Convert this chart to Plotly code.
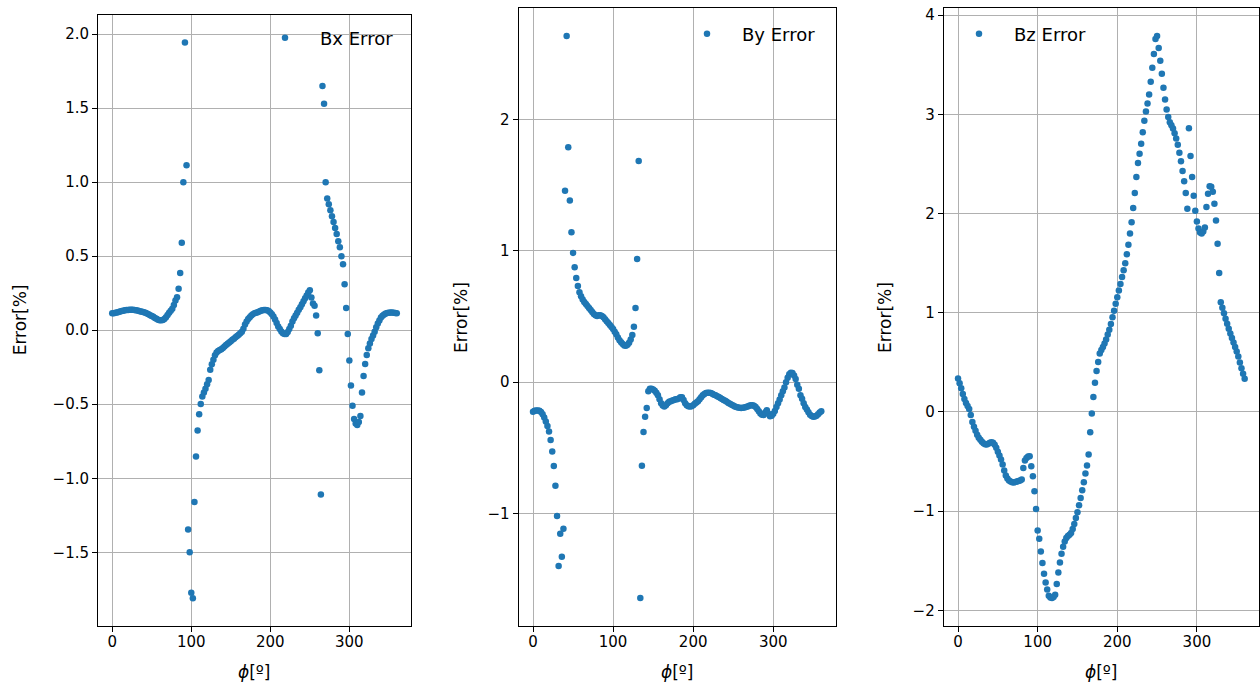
import plotly.graph_objects as go

# ---------------- data ----------------
phi_deg = list(range(0, 362, 2))  # angle grid 0..360 deg, 2 deg step

bx_error = [
    0.114, 0.115, 0.117, 0.120, 0.123, 0.126, 0.129, 0.132, 0.134, 0.136,
    0.137, 0.138, 0.138, 0.138, 0.137, 0.135, 0.133, 0.130, 0.127, 0.124,
    0.121, 0.118, 0.113, 0.107, 0.101, 0.096, 0.090, 0.083, 0.077, 0.071,
    0.068, 0.067, 0.069, 0.076, 0.088, 0.103, 0.118, 0.132, 0.145, 0.170,
    0.200, 0.222, 0.280, 0.386, 0.590, 1.000, 1.943, 1.114, -1.347, -1.500,
    -1.774, -1.810, -1.160, -0.853, -0.678, -0.567, -0.498, -0.448, -0.420, -0.395,
    -0.365, -0.336, -0.268, -0.230, -0.200, -0.170, -0.150, -0.140, -0.133, -0.128,
    -0.120, -0.110, -0.100, -0.092, -0.083, -0.075, -0.065, -0.057, -0.048, -0.040,
    -0.030, -0.020, -0.010, 0.010, 0.038, 0.058, 0.075, 0.088, 0.100, 0.108,
    0.114, 0.118, 0.122, 0.127, 0.131, 0.134, 0.136, 0.136, 0.134, 0.130,
    0.120, 0.108, 0.092, 0.072, 0.048, 0.025, 0.008, -0.008, -0.020, -0.026,
    -0.025, -0.012, 0.008, 0.030, 0.058, 0.080, 0.100, 0.118, 0.138, 0.155,
    0.175, 0.195, 0.215, 0.235, 0.255, 0.270, 0.220, 0.180, 0.165, 0.100,
    -0.020, -0.270, -1.110, 1.649, 1.530, 1.000, 0.890, 0.850, 0.810, 0.770,
    0.730, 0.690, 0.650, 0.600, 0.560, 0.500, 0.446, 0.310, 0.150, -0.026,
    -0.205, -0.374, -0.510, -0.600, -0.630, -0.640, -0.620, -0.580, -0.420, -0.310,
    -0.228, -0.167, -0.122, -0.090, -0.060, -0.035, -0.010, 0.020, 0.045, 0.065,
    0.085, 0.098, 0.106, 0.112, 0.116, 0.118, 0.120, 0.120, 0.118, 0.116,
    0.114,
]

by_error = [
    -0.226, -0.218, -0.215, -0.215, -0.218, -0.228, -0.245, -0.270, -0.300, -0.335,
    -0.376, -0.440, -0.529, -0.638, -0.790, -1.020, -1.400, -1.155, -1.330, -1.117,
    1.458, 2.637, 1.790, 1.385, 1.143, 0.985, 0.876, 0.794, 0.733, 0.685,
    0.655, 0.630, 0.610, 0.595, 0.580, 0.565, 0.550, 0.535, 0.520, 0.510,
    0.505, 0.510, 0.510, 0.505, 0.495, 0.480, 0.465, 0.450, 0.435, 0.420,
    0.405, 0.385, 0.365, 0.340, 0.320, 0.305, 0.290, 0.280, 0.278, 0.285,
    0.300, 0.325, 0.360, 0.423, 0.565, 0.939, 1.685, -1.644, -0.636, -0.379,
    -0.264, -0.196, -0.070, -0.050, -0.050, -0.055, -0.065, -0.080, -0.100, -0.130,
    -0.160, -0.178, -0.185, -0.175, -0.160, -0.150, -0.145, -0.140, -0.135, -0.130,
    -0.130, -0.125, -0.115, -0.115, -0.135, -0.160, -0.175, -0.183, -0.185, -0.183,
    -0.175, -0.165, -0.155, -0.145, -0.130, -0.115, -0.100, -0.090, -0.083, -0.080,
    -0.080, -0.082, -0.088, -0.095, -0.100, -0.107, -0.113, -0.120, -0.128, -0.135,
    -0.142, -0.150, -0.158, -0.165, -0.172, -0.178, -0.185, -0.190, -0.193, -0.195,
    -0.196, -0.195, -0.193, -0.190, -0.185, -0.180, -0.176, -0.175, -0.180, -0.190,
    -0.205, -0.222, -0.238, -0.248, -0.250, -0.230, -0.214, -0.240, -0.260, -0.255,
    -0.240, -0.220, -0.190, -0.160, -0.132, -0.100, -0.069, -0.040, 0.000, 0.034,
    0.060, 0.072, 0.070, 0.050, 0.025, -0.020, -0.050, -0.100, -0.127, -0.160,
    -0.190, -0.208, -0.230, -0.248, -0.258, -0.264, -0.262, -0.255, -0.245, -0.232,
    -0.221,
]

bz_error = [
    0.338, 0.290, 0.240, 0.180, 0.130, 0.090, 0.060, 0.030, -0.030, -0.100,
    -0.150, -0.190, -0.230, -0.260, -0.280, -0.300, -0.315, -0.325, -0.328, -0.320,
    -0.310, -0.305, -0.310, -0.330, -0.360, -0.400, -0.440, -0.480, -0.530, -0.590,
    -0.640, -0.670, -0.690, -0.700, -0.708, -0.710, -0.705, -0.700, -0.695, -0.690,
    -0.680, -0.564, -0.490, -0.463, -0.450, -0.446, -0.547, -0.648, -0.800, -0.978,
    -1.194, -1.278, -1.406, -1.523, -1.630, -1.720, -1.790, -1.853, -1.870, -1.875,
    -1.865, -1.843, -1.735, -1.618, -1.517, -1.430, -1.360, -1.305, -1.270, -1.250,
    -1.237, -1.220, -1.180, -1.130, -1.070, -1.010, -0.940, -0.867, -0.790, -0.709,
    -0.620, -0.540, -0.430, -0.204, -0.015, 0.150, 0.294, 0.412, 0.503, 0.590,
    0.625, 0.655, 0.690, 0.730, 0.780, 0.830, 0.887, 0.955, 1.020, 1.090,
    1.157, 1.225, 1.290, 1.360, 1.430, 1.500, 1.590, 1.685, 1.800, 1.914,
    2.056, 2.207, 2.370, 2.510, 2.604, 2.705, 2.820, 2.937, 3.030, 3.110,
    3.200, 3.330, 3.470, 3.610, 3.760, 3.790, 3.670, 3.540, 3.410, 3.270,
    3.150, 3.050, 2.975, 2.920, 2.890, 2.857, 2.810, 2.756, 2.695, 2.614,
    2.527, 2.430, 2.325, 2.207, 2.050, 2.860, 2.580, 2.370, 2.180, 2.030,
    1.920, 1.850, 1.810, 1.800, 1.820, 1.860, 2.066, 2.200, 2.275, 2.270,
    2.220, 2.100, 1.930, 1.695, 1.400, 1.106, 1.050, 0.995, 0.940, 0.890,
    0.840, 0.790, 0.745, 0.700, 0.655, 0.610, 0.560, 0.500, 0.440, 0.385,
    0.335,
]

series_names = ["Bx Error", "By Error", "Bz Error"]
x_ticks = [0, 100, 200, 300]
y_ticks = [
    [-1.5, -1.0, -0.5, 0.0, 0.5, 1.0, 1.5, 2.0],
    [-1, 0, 1, 2],
    [-2, -1, 0, 1, 2, 3, 4],
]
y_tick_text = [
    ["\u22121.5", "\u22121.0", "\u22120.5", "0.0", "0.5", "1.0", "1.5", "2.0"],
    ["\u22121", "0", "1", "2"],
    ["\u22122", "\u22121", "0", "1", "2", "3", "4"],
]
x_label = "<i>\u03d5</i>[\u00ba]"
y_label = "Error[%]"

# ---------------- layout geometry (pixels) ----------------
W, H = 1260, 689
BLUE = "#1f77b4"
FONT = "DejaVu Sans"
FS_TICK = 15
FS_TITLE = 17
FS_LEG = 18
boxes = [(98, 411, 14.7, 626), (518.6, 835.7, 8, 626), (943.7, 1259, 8, 626)]
x_range = [-18, 378]
y_ranges = [[-1.998, 2.131], [-1.858, 2.851], [-2.158, 4.073]]
legend_pos = [(285, 38), (707, 34), (979, 34)]   # marker centre (px)
ytitle_x = [20, 461, 885]                          # y-title centre x (px)
xtitle_y = 672                                     # x-title centre y (px)
LEG_ITEMW = 60

fig = go.Figure()
series = [bx_error, by_error, bz_error]
for i, vals in enumerate(series):
    sfx = "" if i == 0 else str(i + 1)
    fig.add_trace(go.Scatter(
        x=phi_deg, y=vals, mode="markers", name=series_names[i],
        marker=dict(color=BLUE, size=6.5, line=dict(width=0)),
        xaxis="x" + sfx, yaxis="y" + sfx, legend="legend" + sfx,
        showlegend=True,
    ))

layout = dict(
    width=W, height=H,
    margin=dict(l=0, r=0, t=0, b=0, autoexpand=False),
    paper_bgcolor="white", plot_bgcolor="white",
    font=dict(family=FONT, size=FS_TICK, color="black"),
    showlegend=True,
)

axis_common = dict(
    showline=True, mirror=True, linecolor="black", linewidth=1,
    ticks="outside", ticklen=5, tickwidth=1, tickcolor="black",
    showgrid=True, gridcolor="#b0b0b0", gridwidth=1,
    zeroline=False, tickfont=dict(size=FS_TICK), automargin=False,
)

annotations = []
for i, (x0, x1, y0, y1) in enumerate(boxes):
    sfx = "" if i == 0 else str(i + 1)
    layout["xaxis" + sfx] = dict(
        axis_common, domain=[x0 / W, x1 / W], range=x_range,
        tickvals=x_ticks, anchor="y" + sfx, ticklabelstandoff=-3,
    )
    layout["yaxis" + sfx] = dict(
        axis_common, domain=[1 - y1 / H, 1 - y0 / H], range=y_ranges[i],
        tickvals=y_ticks[i], ticktext=y_tick_text[i], anchor="x" + sfx,
    )
    mx, my = legend_pos[i]
    layout["legend" + sfx] = dict(
        x=(mx - (LEG_ITEMW / 2 + 5)) / W, y=1 - my / H,
        xanchor="left", yanchor="middle",
        bgcolor="rgba(0,0,0,0)", borderwidth=0, itemwidth=LEG_ITEMW,
        font=dict(size=FS_LEG),
    )
    annotations.append(dict(
        text=x_label, xref="paper", yref="paper",
        x=(x0 + x1) / 2 / W, y=1 - xtitle_y / H,
        xanchor="center", yanchor="middle", showarrow=False,
        font=dict(size=FS_TITLE),
    ))
    annotations.append(dict(
        text=y_label, xref="paper", yref="paper",
        x=ytitle_x[i] / W, y=1 - (y0 + y1) / 2 / H,
        xanchor="center", yanchor="middle", showarrow=False, textangle=-90,
        font=dict(size=FS_TITLE),
    ))

layout["annotations"] = annotations
fig.update_layout(**layout)
fig.write_html(
    "out.html",
    config={"displayModeBar": False},
    post_script="document.body.style.margin='0px';",
)
